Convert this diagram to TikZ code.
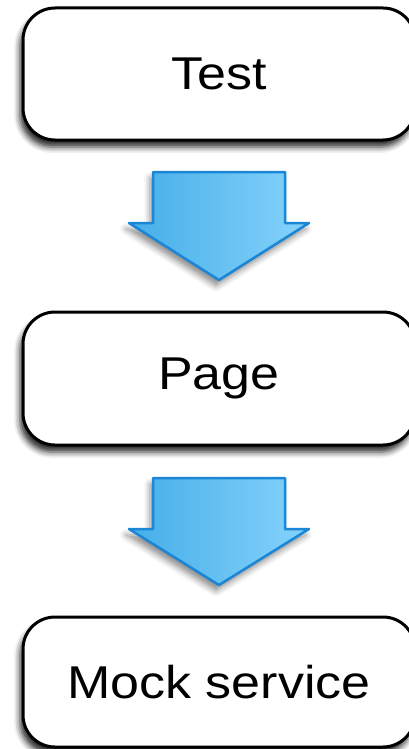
\documentclass[tikz,border=0pt]{standalone}
\usepackage{fontspec}
\setmainfont{Liberation Sans}
\usetikzlibrary{shadows.blur}
\definecolor{arrowL}{HTML}{45AEE8}
\definecolor{arrowR}{HTML}{86D3FB}
\definecolor{arrowB}{HTML}{1B86D6}
\tikzset{
  boxnode/.style={draw=black, line width=3pt, fill=white, rounded corners=32pt,
    minimum width=392pt, inner sep=0pt,
    blur shadow={shadow xshift=-3pt, shadow yshift=-7pt, shadow blur radius=6pt, shadow opacity=85},
    font=\fontsize{46}{52}\selectfont},
  blockarrow/.style={draw=arrowB, line width=2.5pt, line join=round,
    left color=arrowL, right color=arrowR,
    blur shadow={shadow xshift=-3pt, shadow yshift=-6pt, shadow blur radius=6pt, shadow opacity=45}}
}
\newcommand{\wtext}[1]{\scalebox{1.13}[1]{#1}}
\begin{document}
\begin{tikzpicture}[x=1pt,y=-1pt]
\useasboundingbox (0,0) rectangle (408,749);
\node[boxnode, minimum height=132pt] (test) at (219,74) {\wtext{Test}};
\node[boxnode, minimum height=133pt] (page) at (219,378.5) {\wtext{Page}};
\node[boxnode, minimum height=130pt] (mock) at (219,682) {\wtext{Mock service}};
\path[blockarrow] (153,172) -- (285,172) -- (285,223) -- (309,223) -- (219,280)
  -- (129,223) -- (153,223) -- cycle;
\path[blockarrow] (153,478) -- (285,478) -- (285,529) -- (309,529) -- (219,585)
  -- (129,529) -- (153,529) -- cycle;
\end{tikzpicture}
\end{document}
